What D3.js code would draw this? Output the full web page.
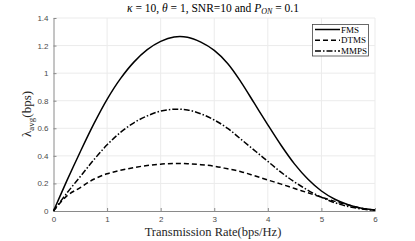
<!DOCTYPE html>
<html><head><meta charset="utf-8">
<script src="https://cdn.jsdelivr.net/npm/d3@7"></script>
<style>body{margin:0;background:#fff}svg{display:block}</style>
</head><body>
<svg id="c" width="415" height="241"></svg>
<script>
const rate = [0,0.25,0.5,0.75,1,1.25,1.5,1.75,2,2.25,2.5,2.75,3,3.25,3.5,3.75,4,4.25,4.5,4.75,5,5.25,5.5,5.75,6];
const fms  = [0,0.22,0.43,0.63,0.81,0.96,1.08,1.17,1.23,1.262,1.26,1.225,1.165,1.07,0.935,0.78,0.625,0.475,0.34,0.23,0.145,0.085,0.045,0.02,0.008];
const dtms = [0,0.11,0.17,0.23,0.27,0.295,0.315,0.33,0.34,0.345,0.343,0.336,0.325,0.306,0.285,0.256,0.225,0.195,0.163,0.132,0.10,0.07,0.043,0.02,0.005];
const mmps = [0,0.13,0.25,0.37,0.48,0.57,0.64,0.69,0.725,0.738,0.733,0.705,0.66,0.60,0.52,0.44,0.36,0.28,0.21,0.15,0.10,0.06,0.033,0.015,0.005];
const xTicks = [0,1,2,3,4,5,6];
const yTicks = [0,0.2,0.4,0.6,0.8,1,1.2,1.4];
const seriesNames = ["FMS","DTMS","MMPS"];
const dashes = [null,"5,3","6,2,1.5,2"];

const svg = d3.select("#c");
const L=53.5,R=375,T=18,B=211;
const x = d3.scaleLinear().domain([0,6]).range([L,R]);
const y = d3.scaleLinear().domain([0,1.4]).range([B,T]);

// grid
svg.append("g").selectAll("line").data(xTicks.slice(1)).join("line")
  .attr("x1",d=>x(d)).attr("x2",d=>x(d)).attr("y1",T).attr("y2",B)
  .attr("stroke","#ebebeb").attr("stroke-width",1);
svg.append("g").selectAll("line").data(yTicks.slice(1)).join("line")
  .attr("x1",L).attr("x2",R).attr("y1",d=>y(d)).attr("y2",d=>y(d))
  .attr("stroke","#ebebeb").attr("stroke-width",1);

// axes
const fmt = d=>d3.format("~g")(d);
const xa = svg.append("g").attr("transform",`translate(0,${B})`)
  .call(d3.axisBottom(x).tickValues(xTicks).tickFormat(fmt).tickSizeInner(-3).tickSizeOuter(0).tickPadding(5));
const ya = svg.append("g").attr("transform",`translate(${L},0)`)
  .call(d3.axisLeft(y).tickValues(yTicks).tickFormat(fmt).tickSizeInner(-3).tickSizeOuter(0).tickPadding(5));
[xa,ya].forEach(a=>{
  a.select(".domain").attr("stroke","#8a8a8a").attr("stroke-width",1);
  a.selectAll(".tick line").attr("stroke","#8a8a8a");
  a.selectAll("text").attr("fill","#4a4a4a").style("font-family","Liberation Sans, Arial, sans-serif").style("font-size","8px");
});

// lines
const data = [fms,dtms,mmps];
const line = d3.line().x((d,i)=>x(rate[i])).y(d=>y(d)).curve(d3.curveCatmullRom.alpha(0.5));
data.forEach((s,k)=>{
  svg.append("path").datum(s).attr("d",line).attr("fill","none")
    .attr("stroke","#000").attr("stroke-width",1.5)
    .attr("stroke-dasharray",dashes[k]);
});

// legend
const lg = svg.append("g");
lg.append("rect").attr("x",312.5).attr("y",24.5).attr("width",56).attr("height",31.5)
  .attr("fill","#fff").attr("stroke","#444").attr("stroke-width",0.8);
seriesNames.forEach((n,k)=>{
  const yy = 29.5 + k*10.8;
  lg.append("line").attr("x1",315).attr("x2",340).attr("y1",yy).attr("y2",yy)
    .attr("stroke","#000").attr("stroke-width",1.5).attr("stroke-dasharray",dashes[k]);
  lg.append("text").attr("x",341).attr("y",yy+3).text(n)
    .style("font-family","Liberation Serif, serif").style("font-size","9px").attr("fill","#000");
});

// title
const title = svg.append("text").attr("x",213).attr("y",12).attr("text-anchor","middle")
  .style("font-family","Liberation Serif, serif").style("font-size","11.5px").attr("fill","#000");
title.append("tspan").style("font-style","italic").text("κ");
title.append("tspan").text(" = 10, ");
title.append("tspan").style("font-style","italic").text("θ");
title.append("tspan").text(" = 1, SNR=10 and ");
title.append("tspan").style("font-style","italic").text("P");
title.append("tspan").style("font-style","italic").style("font-size","8px").attr("dy",2).text("ON");
title.append("tspan").attr("dy",-2).text(" = 0.1");

// x label
svg.append("text").attr("x",213).attr("y",236).attr("text-anchor","middle")
  .style("font-family","Liberation Serif, serif").style("font-size","12.5px").attr("fill","#262626")
  .text("Transmission Rate(bps/Hz)");

// y label
const yl = svg.append("text").attr("transform","translate(31,114) rotate(-90)").attr("text-anchor","middle")
  .style("font-family","Liberation Serif, serif").style("font-size","13px").attr("fill","#262626");
yl.append("tspan").text("λ");
yl.append("tspan").style("font-size","9px").attr("dy",3).text("avg");
yl.append("tspan").attr("dy",-3).text("(bps)");
</script>
</body></html>
